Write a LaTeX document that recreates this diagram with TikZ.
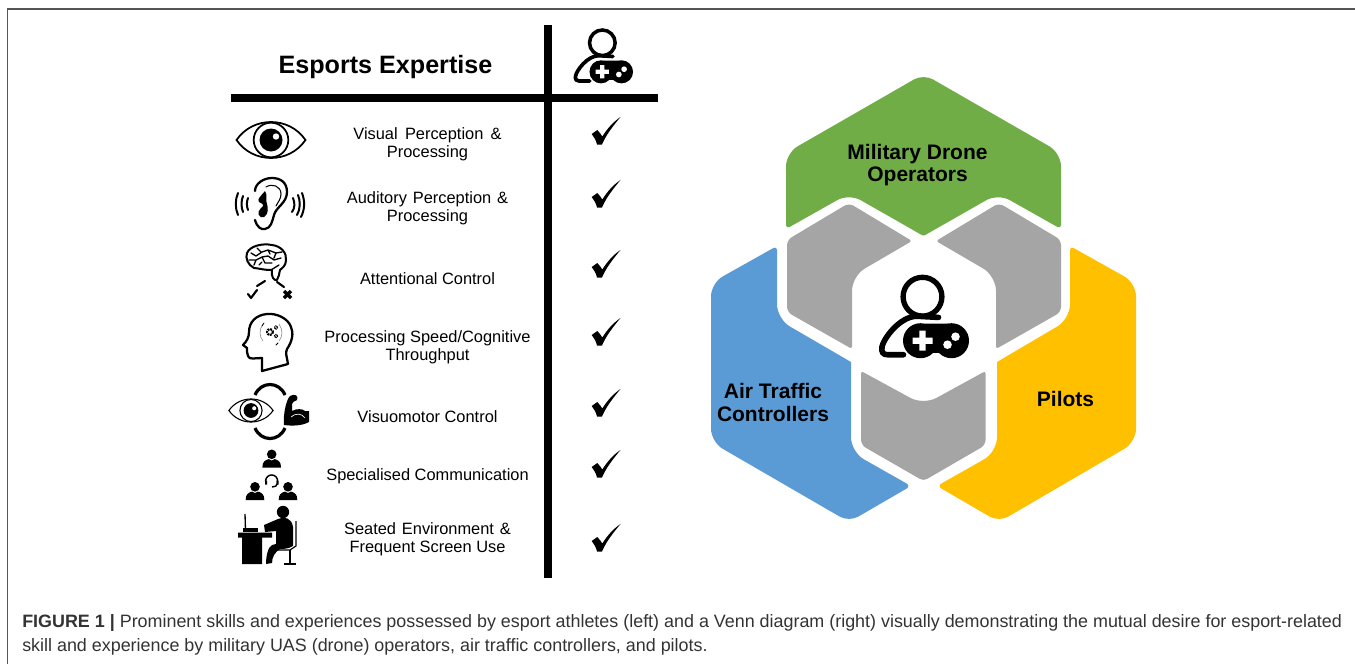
\documentclass[tikz,border=0pt]{standalone}
\usepackage{fontspec}
\setmainfont{Liberation Sans}
\tikzset{
  rowlabel/.style={align=center,font=\fontsize{12.3}{13.6}\selectfont,text=black,inner sep=0pt},
  venn/.style={align=center,font=\fontsize{15.75}{17}\selectfont\bfseries,text=black,inner sep=0pt},
  caption/.style={anchor=base west,inner sep=0pt,text=capC,font=\fontsize{13.43}{14}\selectfont},
  icon/.style={line cap=round,line join=round,draw=black},
}
\definecolor{gGreen}{HTML}{70AD47}
\definecolor{gBlue}{HTML}{5B9BD5}
\definecolor{gGold}{HTML}{FFC000}
\definecolor{gGray}{HTML}{A5A5A5}
\definecolor{frameC}{HTML}{555555}
\definecolor{capC}{HTML}{333333}
\newcommand\checkmk[2]{\fill[black,shift={(#1,#2)}] (-14.3,3) -- (-8.7,-1) .. controls (-7,1) and (-5,3) .. (-3.7,5.5) .. controls (1,-2) and (7,-9) .. (14.5,-14) .. controls (7,-5) and (0,4) .. (-4,13.5) -- (-9,13.5) .. controls (-10,9) and (-12,6) .. (-14.3,3) -- cycle;}
\newcommand\gamer[3]{\begin{scope}[shift={(#1,#2)},scale=#3]
  \draw[black,line width=#3*4pt] (-1,-20) circle (19.4);
  \draw[black,line width=#3*4.2pt,line cap=round] (15,0.7) -- (-7,-0.5) .. controls (-24,0) and (-40,22) .. (-41.5,30) .. controls (-42.5,36) and (-40,38) .. (-36,38) -- (-20,38);
  \fill[black,rounded corners=#3*9pt] (-10,7) rectangle (36,36);
  \fill[black] (-3,24) circle (17.5) (28,24) circle (17.5);
  \fill[black] (-5,7) rectangle (30,36);
  \fill[white] (-4.2,14) rectangle (2.2,34) (-11,20.8) rectangle (9,27.2);
  \fill[white] (32,20) circle (4.3) (24,28) circle (4.3);
\end{scope}}
\newcommand\eyeicon[3]{\begin{scope}[shift={(#1,#2)},scale=#3]
  \draw[black,line width=#3*1.3pt,line join=miter,fill=white] (-34.5,0) .. controls (-18,-24) and (18,-24) .. (34.5,0) .. controls (18,24) and (-18,24) .. (-34.5,0) -- cycle;
  \draw[black,line width=#3*1.3pt] (0,0) circle (17.3);
  \fill[black] (0,0) circle (11.5);
  \fill[white] (5,-3.5) circle (3.2);
\end{scope}}
\newcommand\personic[3]{\begin{scope}[shift={(#1,#2)},scale=#3]
  \fill[black] (0,-4.2) circle (4.8);
  \fill[black] (-9.3,9) .. controls (-9.6,3) and (-6,1.4) .. (-3,0.6) -- (0,2) -- (3,0.6) .. controls (6,1.4) and (9.6,3) .. (9.3,9) -- cycle;
\end{scope}}
\begin{document}
\begin{tikzpicture}[x=0.75pt,y=-0.75pt]
\useasboundingbox (0,0) rectangle (1355,664);
\fill[white] (0,0) rectangle (1355,664);
% frame
\draw[frameC,line width=0.8pt] (1355,9) -- (7.5,9) -- (7.5,664);
% table
\fill[black] (231,93.5) rectangle (658,101.5);
\fill[black] (544,25) rectangle (552,578);
\node[font=\fontsize{18.85}{20}\selectfont\bfseries,inner sep=0pt] (title) at (385.5,66.5) {Esports Expertise};
\gamer{603}{56}{0.66}
% rows
\node[rowlabel] (r1) at (427.5,144) {Visual\, Perception\, \&\\Processing};
\node[rowlabel] (r2) at (427.5,208) {Auditory\kern1pt\ Perception\kern1pt\ \&\\Processing};
\node[rowlabel] (r3) at (427.5,279) {Attentional Control};
\node[rowlabel] (r4) at (427.5,347) {Processing Speed/Cognitive\\Throughput};
\node[rowlabel] (r5) at (427.5,417) {Visuomotor Control};
\node[rowlabel] (r6) at (427.5,476) {Specialised Communication};
\node[rowlabel] (r7) at (427.5,539) {Seated\kern1pt\ Environment\kern1pt\ \&\\Frequent Screen Use};
\checkmk{606}{131}\checkmk{606}{194}\checkmk{606}{264}\checkmk{606}{332}\checkmk{606}{403}\checkmk{606}{464}\checkmk{606}{538}
% eye
\eyeicon{271}{140}{1}
% ear
\begin{scope}[icon]
\draw[line width=1.7pt] (255,220) .. controls (257,227) and (261,230) .. (265,229) .. controls (271,228) and (272,222) .. (274,215) .. controls (276,207) and (287,203) .. (287,192) .. controls (287,182) and (280,178) .. (272,178) .. controls (263,178) and (255,184) .. (255,191);
\draw[line width=0.8pt] (266,187) .. controls (272,183) and (281,186) .. (281,194) .. controls (281,199) and (278,202) .. (276,206);
\fill[black] (265,191) .. controls (260,197) and (257,199) .. (259,202) .. controls (263,204) and (265,205) .. (261,208) .. controls (256,212) and (259,219) .. (264,217) .. controls (269,214) and (268,208) .. (267,204) .. controls (265,200) and (268,195) .. (265,191) -- cycle;
\draw[line width=1.5pt] (238,193) .. controls (235,200) and (235,208) .. (238,215) (243,196) .. controls (241,201) and (241,207) .. (243,212) (248,198) .. controls (246.5,202) and (246.5,206) .. (248,210);
\draw[line width=1.5pt] (293,198) .. controls (295,203) and (295,208) .. (292,212) (298,195) .. controls (300.5,201) and (300.5,209) .. (297,215) (302,193) .. controls (305,201) and (305,209) .. (301,217);
% brain
\draw[line width=1.5pt] (272,270) .. controls (262,270) and (258,268) .. (254,268) .. controls (248,265) and (245,258) .. (247,253) .. controls (250,246) and (262,243) .. (272,245) .. controls (281,246) and (287,253) .. (286,260) .. controls (286,266) and (282,268) .. (280,270) .. controls (279,274) and (279,277) .. (277,280) .. controls (274,281) and (271,277) .. (272,270) -- cycle;
\draw[line width=1pt] (251,253) -- (256,256) -- (262,252) -- (268,250) (257,248) -- (261,252) (268,250) -- (276,253) -- (282,252) (249,260) -- (256,260) -- (262,257) -- (268,256) -- (274,260) (256,260) -- (254,265) (262,257) -- (265,263) -- (272,263) (274,260) -- (281,258) (276,253) -- (274,258) (271,270) -- (279,265) (268,250) -- (270,254) (262,262) -- (259,265);
\draw[line width=1.6pt] (265,281) -- (257,286) (277,282) -- (284,287);
\draw[line width=1.6pt] (248,294) -- (251,298) -- (257,290);
\draw[line width=2.4pt,line cap=butt] (284,291) -- (291,298) (291,291) -- (284,298);
% head
\draw[line width=1.7pt] (262,371) -- (288,364) .. controls (287,357) and (285,353) .. (287,349) .. controls (292,342) and (294,333) .. (291,327) .. controls (288,318) and (276,313) .. (267,314) .. controls (256,315) and (249,322) .. (249,332) .. controls (249,337) and (247,341) .. (243,345) -- (247,348) .. controls (247,351) and (247,354) .. (248,356) .. controls (249,360) and (255,358) .. (262,358) -- cycle;
\draw[black,line width=1.6pt,dash pattern=on 1.4pt off 0.7pt,line cap=butt] (270,332) circle (3);
\draw[black,line width=0.9pt,dash pattern=on 0.8pt off 0.5pt,line cap=butt] (276,327.5) circle (1.8) (276,336) circle (1.8);
\draw[gray,line width=0.4pt] (263,324) .. controls (259,330) and (259,336) .. (263,341) (279,324) .. controls (283,330) and (283,336) .. (279,341);
\draw[black,line width=0.6pt] (262,326) -- (264,323) (278,343) -- (276,345);
% arrows
\draw[line width=2.4pt,line cap=butt] (255,395) .. controls (261,381) and (279,381) .. (285,395);
\draw[line width=2.4pt,line cap=butt] (255,428) .. controls (261,442) and (279,442) .. (285,428);
\end{scope}
\eyeicon{251}{410.5}{0.64}
% muscle
\fill[black] (284,425) .. controls (283,415) and (286,400) .. (290,396) .. controls (295,393) and (299,396) .. (297,400) .. controls (295,402) and (292,401) .. (292,404) -- (292,411) .. controls (297,408) and (303,409) .. (305,411) -- (309,411) -- (309,422) .. controls (302,426) and (292,426) .. (284,425) -- cycle;
\draw[white,line width=0.5pt] (291,417) .. controls (295,413) and (302,413) .. (305,418);
% team
\personic{271.7}{458.5}{1}
\personic{255}{491}{1}
\personic{288}{491}{1}
\draw[black,line width=1.1pt] (266,483) arc[start angle=160,end angle=380,radius=6];
\draw[black,line width=1.1pt] (277.4,483.5) .. controls (277,486) and (275,487) .. (272,487);
\fill[black] (265,480.5) rectangle (267,484.5) (276.5,480.5) rectangle (278.5,484.5);
% desk person
\fill[black] (238,532.5) rectangle (272,537.5) (242,537) rectangle (262,564);
\draw[black,line width=1pt] (245,514) -- (245.5,530);
\fill[black] (243,528) rectangle (258,531.5);
\fill[black] (283,512) circle (6.2);
\fill[black] (264,525) -- (278,519) .. controls (284,516) and (292,518) .. (293,527) -- (293,546) .. controls (288,549) and (283,549) .. (280,549) .. controls (275,552) and (272,557) .. (272,563) -- (266,564) .. controls (266,556) and (268,547) .. (272,545) -- (276,544) -- (276,531) -- (265,532) -- cycle;
\draw[black,line width=0.9pt] (296,521) -- (296,546) -- (290,550) -- (277,550);
\draw[black,line width=1.3pt] (290,550) -- (290,563);
\draw[black,line width=1pt] (284,564) -- (296,564);
% Venn: each outline starts mid-edge; the radius given before a segment applies at that segment's end
\fill[gGreen] (854.75,113.5) [rounded corners=8pt] -- (923.5,74) [rounded corners=10pt] -- (1061,153) [rounded corners=3pt] -- (1061,229) [rounded corners=10pt] -- (998,193.5) [rounded corners=1pt] -- (923.5,236) [rounded corners=10pt] -- (849,193.5) [rounded corners=3pt] -- (786,229) [rounded corners=10pt] -- (786,153) [sharp corners] -- (854.75,113.5) -- cycle;
\fill[gBlue] (711,360) [rounded corners=10pt] -- (711,283) [rounded corners=3pt] -- (777,246) [rounded corners=11pt] -- (777,319) [sharp corners] -- (851,362) [rounded corners=11pt] -- (851,452) [rounded corners=4pt] -- (911,486) [rounded corners=8pt] -- (849,522) [rounded corners=10pt] -- (711,442) [sharp corners] -- (711,360) -- cycle;
\fill[gGold] (1136,360) [rounded corners=10pt] -- (1136,283) [rounded corners=3pt] -- (1070,246) [rounded corners=11pt] -- (1070,319) [sharp corners] -- (997,362) [rounded corners=11pt] -- (997,452) [rounded corners=4pt] -- (937,486) [rounded corners=8pt] -- (999,522) [rounded corners=10pt] -- (1136,442) [sharp corners] -- (1136,360) -- cycle;
\fill[gGray] (861,410) [rounded corners=2pt] -- (861,371) [rounded corners=11pt] -- (923.5,405) [rounded corners=2pt] -- (985.6,371) [rounded corners=4pt] -- (985.6,445) [rounded corners=3pt] -- (923.5,481) [rounded corners=4pt] -- (861,445) [sharp corners] -- (861,410) -- cycle;
\fill[gGray] (787,275) [rounded corners=4pt] -- (787,240) [rounded corners=4pt] -- (849,203) [rounded corners=2pt] -- (912,241) [rounded corners=11pt] -- (852,276) [rounded corners=2pt] -- (852,349) [rounded corners=4pt] -- (787,312) [sharp corners] -- (787,275) -- cycle;
\fill[gGray] (1061,275) [rounded corners=4pt] -- (1061,240) [rounded corners=4pt] -- (999,203) [rounded corners=2pt] -- (936,241) [rounded corners=11pt] -- (996,276) [rounded corners=2pt] -- (996,349) [rounded corners=4pt] -- (1061,312) [sharp corners] -- (1061,275) -- cycle;
\gamer{923.5}{316.7}{1}
\node[venn] (mil) at (917.5,165) {Military Drone\\Operators};
\node[venn] (atc) at (773,402.5) {Air Traffic\\Controllers};
\node[venn] (pil) at (1065.5,399) {Pilots};
% caption
\node[caption] (cap1) at (22,627) {\textbf{FIGURE 1 |} Prominent skills and experiences possessed by esport athletes (left) and a Venn diagram (right) visually demonstrating the mutual desire for esport-related};
\node[caption] (cap2) at (22,651) {skill and experience by military UAS (drone) operators, air traffic controllers, and pilots.};
\end{tikzpicture}
\end{document}
